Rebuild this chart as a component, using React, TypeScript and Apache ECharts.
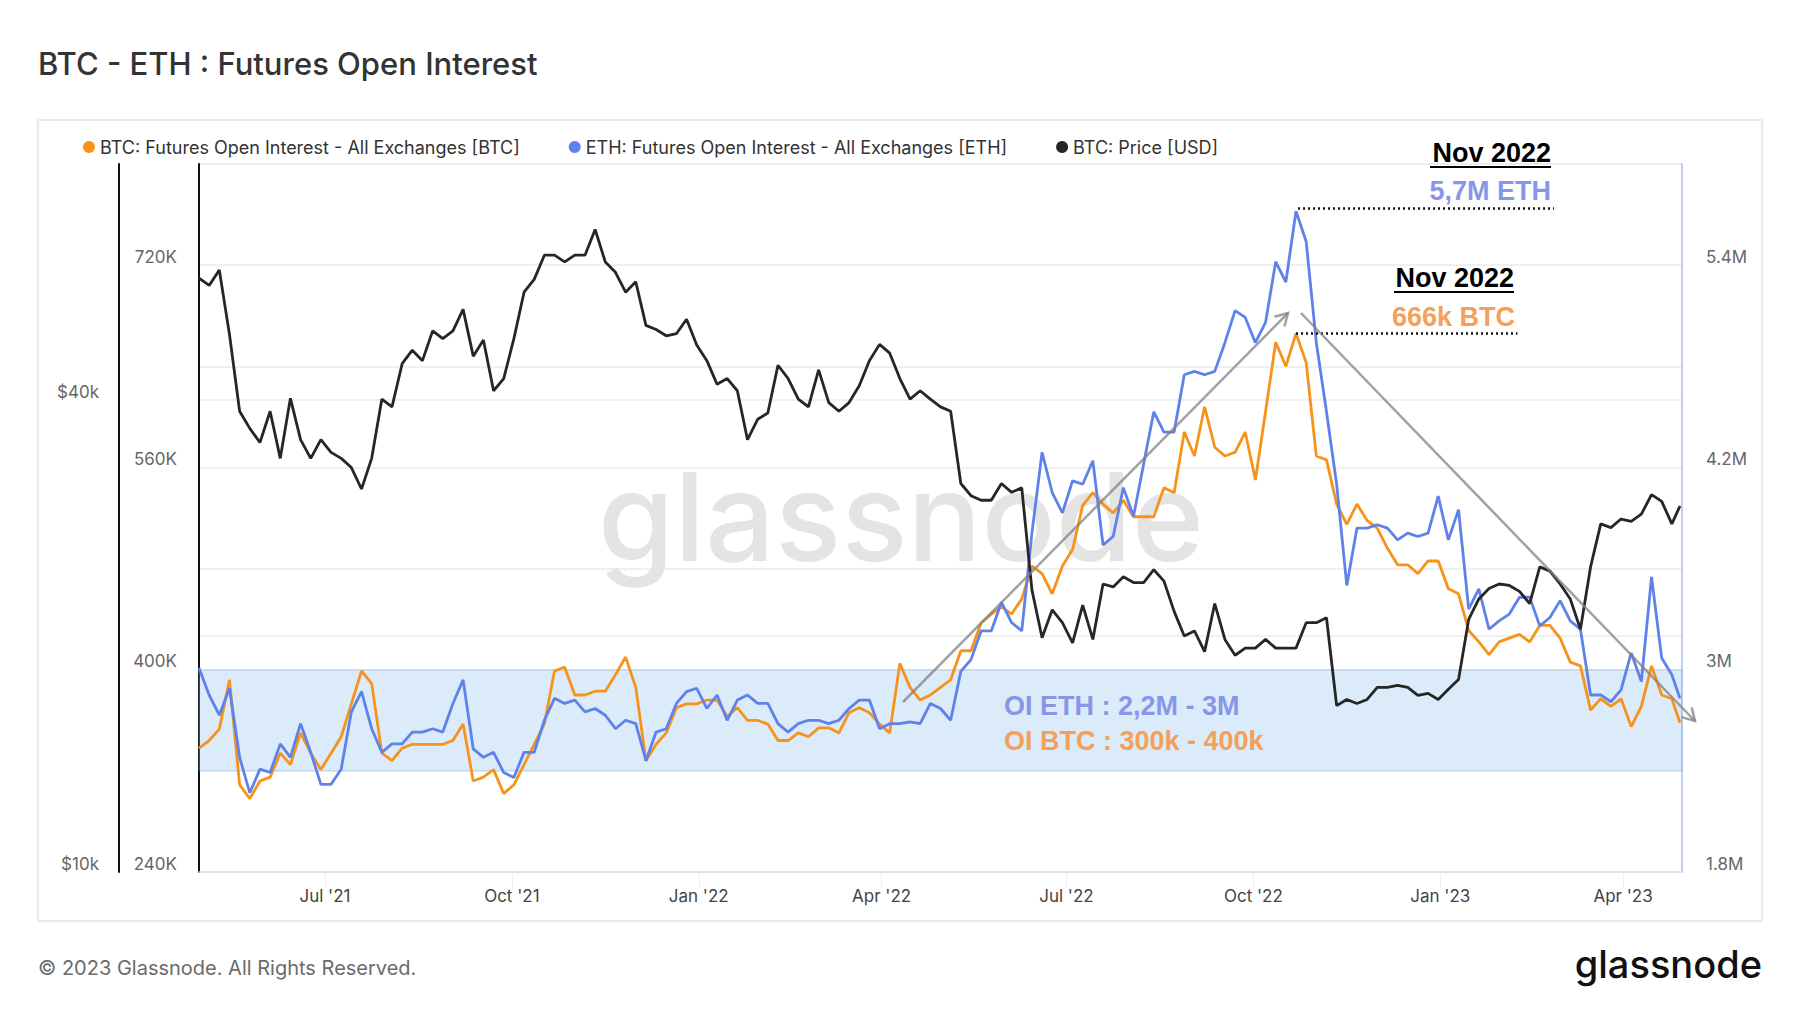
import React, { useEffect, useRef } from "react";
import * as echarts from "echarts";

// ---------- data ----------
const START_DATE = "2021-04-30";
// sample day offsets from START_DATE (every 5 days, plus the last day)
const DAY_OFFSETS = [
  0, 5, 10, 15, 20, 25, 30, 35, 40, 45, 50, 55, 60, 65, 70, 75, 80, 85, 90, 95,
  100, 105, 110, 115, 120, 125, 130, 135, 140, 145, 150, 155, 160, 165, 170, 175, 180, 185, 190, 195,
  200, 205, 210, 215, 220, 225, 230, 235, 240, 245, 250, 255, 260, 265, 270, 275, 280, 285, 290, 295,
  300, 305, 310, 315, 320, 325, 330, 335, 340, 345, 350, 355, 360, 365, 370, 375, 380, 385, 390, 395,
  400, 405, 410, 415, 420, 425, 430, 435, 440, 445, 450, 455, 460, 465, 470, 475, 480, 485, 490, 495,
  500, 505, 510, 515, 520, 525, 530, 535, 540, 545, 550, 555, 560, 565, 570, 575, 580, 585, 590, 595,
  600, 605, 610, 615, 620, 625, 630, 635, 640, 645, 650, 655, 660, 665, 670, 675, 680, 685, 690, 695,
  700, 705, 710, 715, 720, 725, 729,
];

// BTC futures open interest, thousands of BTC
const BTC_OI_K = [
  338, 344, 353, 392, 309, 298, 312, 315, 334, 325, 350, 334, 321, 334, 347, 373, 399, 389, 334, 328,
  338, 341, 341, 341, 341, 344, 357, 312, 315, 321, 302, 309, 325, 341, 357, 399, 402, 380, 380, 383,
  383, 396, 410, 386, 328, 341, 350, 370, 373, 373, 376, 376, 363, 370, 360, 360, 357, 344, 344, 350,
  347, 354, 354, 350, 366, 370, 366, 357, 350, 405, 386, 376, 380, 386, 392, 415, 415, 437, 444, 450,
  444, 456, 482, 476, 460, 482, 495, 530, 540, 531, 524, 534, 521, 521, 521, 544, 540, 588, 569, 608,
  576, 569, 572, 588, 550, 604, 659, 640, 666, 643, 569, 566, 531, 515, 531, 518, 512, 496, 483, 483,
  476, 486, 486, 464, 460, 431, 422, 412, 422, 425, 428, 422, 435, 435, 425, 406, 403, 368, 377, 371,
  377, 355, 371, 403, 380, 377, 358,
];

// ETH futures open interest, millions of ETH
const ETH_OI_M = [
  3.01, 2.85, 2.73, 2.89, 2.48, 2.27, 2.41, 2.39, 2.56, 2.48, 2.68, 2.51, 2.32, 2.32, 2.41, 2.75, 2.87, 2.65, 2.51, 2.56,
  2.56, 2.63, 2.63, 2.65, 2.63, 2.8, 2.94, 2.53, 2.48, 2.51, 2.39, 2.36, 2.51, 2.51, 2.7, 2.83, 2.8, 2.82, 2.75, 2.77,
  2.73, 2.65, 2.7, 2.68, 2.46, 2.63, 2.65, 2.8, 2.87, 2.89, 2.77, 2.85, 2.7, 2.82, 2.85, 2.8, 2.8, 2.68, 2.63, 2.68,
  2.7, 2.7, 2.68, 2.7, 2.77, 2.82, 2.82, 2.65, 2.68, 2.68, 2.69, 2.68, 2.8, 2.77, 2.7, 2.99, 3.06, 3.23, 3.23, 3.4,
  3.28, 3.23, 3.81, 4.29, 4.05, 3.93, 4.12, 4.1, 4.24, 3.74, 3.79, 4.08, 3.91, 4.22, 4.53, 4.41, 4.41, 4.75, 4.77, 4.75,
  4.77, 4.94, 5.13, 5.09, 4.94, 5.06, 5.42, 5.3, 5.72, 5.54, 4.94, 4.53, 4.1, 3.5, 3.84, 3.84, 3.86, 3.84, 3.77, 3.81,
  3.79, 3.81, 4.03, 3.77, 3.95, 3.36, 3.48, 3.24, 3.29, 3.33, 3.43, 3.43, 3.26, 3.31, 3.41, 3.29, 3.24, 2.85, 2.85, 2.81,
  2.88, 3.1, 2.93, 3.55, 3.07, 2.97, 2.83,
];

// BTC price, thousands of USD
const BTC_PRICE_K = [
  57.2, 56.0, 58.6, 48.5, 38.7, 36.8, 35.3, 38.7, 33.7, 40.2, 35.6, 33.7, 35.6, 34.3, 33.7, 32.8, 30.8, 33.7, 40.1, 39.2,
  44.5, 46.3, 44.9, 49.0, 47.9, 49.0, 52.2, 45.5, 47.7, 41.1, 42.6, 47.9, 54.9, 57.0, 61.2, 61.2, 60.0, 61.2, 61.2, 66.0,
  60.0, 58.2, 54.9, 56.6, 49.8, 49.2, 48.3, 48.6, 50.7, 47.0, 44.9, 41.9, 42.6, 41.1, 35.6, 37.8, 38.5, 44.3, 42.6, 40.1,
  39.2, 43.7, 39.7, 38.7, 39.7, 41.7, 44.9, 47.1, 45.9, 42.6, 40.1, 41.1, 40.1, 39.2, 38.7, 31.3, 30.2, 29.8, 29.8, 31.3,
  30.5, 30.9, 22.9, 19.9, 21.6, 20.8, 19.6, 21.9, 19.8, 23.3, 23.1, 23.8, 23.4, 23.4, 24.3, 23.5, 21.5, 20.0, 20.3, 19.1,
  22.0, 19.8, 18.9, 19.3, 19.3, 19.8, 19.3, 19.3, 19.3, 20.8, 20.8, 21.1, 16.3, 16.6, 16.4, 16.6, 17.2, 17.2, 17.3, 17.2,
  16.8, 16.9, 16.6, 17.1, 17.6, 21.0, 22.3, 23.0, 23.3, 23.2, 22.8, 22.0, 24.5, 24.2, 23.3, 22.3, 20.4, 24.5, 27.8, 27.5,
  28.2, 28.0, 28.6, 30.3, 29.7, 27.8, 29.3,
];

const X_TICKS = ["2021-07-01", "2021-10-01", "2022-01-01", "2022-04-01", "2022-07-01", "2022-10-01", "2023-01-01", "2023-04-01"];
const MONTHS = ["Jan", "Feb", "Mar", "Apr", "May", "Jun", "Jul", "Aug", "Sep", "Oct", "Nov", "Dec"];
const PRICE_TICKS = [10000, 20000, 40000, 80000];
const PRICE_LABELS = [10000, 40000];
const BTC_OI_LABELS = [240000, 400000, 560000, 720000];
const ETH_OI_LABELS = [1800000, 3000000, 4200000, 5400000];

const LEGEND_NAMES = [
  "BTC: Futures Open Interest - All Exchanges [BTC]",
  "ETH: Futures Open Interest - All Exchanges [ETH]",
  "BTC: Price [USD]",
];

// annotation values
const BAND_BTC = [320000, 400000];
const ETH_PEAK = 5740000;
const BTC_PEAK = 666000;
const ETH_PEAK_SPAN = [541, 667];
const BTC_PEAK_SPAN = [540, 649];

const DAY_MS = 86400000;
const START_TS = Date.parse(START_DATE + "T00:00:00Z");
const ts = (d: number) => START_TS + d * DAY_MS;

function chevron(x1: number, y1: number, x2: number, y2: number, len = 14, spread = Math.PI / 6) {
  const a = Math.atan2(y2 - y1, x2 - x1);
  return [
    [x2 - len * Math.cos(a - spread), y2 - len * Math.sin(a - spread)],
    [x2, y2],
    [x2 - len * Math.cos(a + spread), y2 - len * Math.sin(a + spread)],
  ];
}

const FONT = "Inter, 'Noto Sans', sans-serif";
const ANNO_FONT = "'Liberation Sans', Arial, sans-serif";
const ETH_TXT = "#8797e8";
const BTC_TXT = "#f5a05a";

export default function App() {
  const ref = useRef<HTMLDivElement>(null);

  useEffect(() => {
    if (!ref.current) return;
    const chart = echarts.init(ref.current, undefined, { renderer: "svg" });

    const btcData = DAY_OFFSETS.map((d, i) => [ts(d), BTC_OI_K[i] * 1000]);
    const ethData = DAY_OFFSETS.map((d, i) => [ts(d), ETH_OI_M[i] * 1e6]);
    const priceData = DAY_OFFSETS.map((d, i) => [ts(d), BTC_PRICE_K[i] * 1000]);
    const xTicks = X_TICKS.map((s) => Date.parse(s + "T00:00:00Z"));

    const arrow1 = [903, 702, 1288, 313];
    const arrow2 = [1301, 313, 1695, 721];
    const arrowStyle = { stroke: "rgba(130,130,130,0.75)", lineWidth: 2.5, fill: "none" };

    const axisLabelBase = { color: "#666", fontSize: 17, fontFamily: FONT };

    chart.setOption({
      animation: false,
      backgroundColor: "#fff",
      title: {
        text: "BTC - ETH : Futures Open Interest",
        left: 38,
        top: 48,
        padding: 0,
        textStyle: { fontSize: 31, fontWeight: 500, color: "#333", fontFamily: FONT },
      },
      legend: {
        data: LEGEND_NAMES,
        left: 83,
        top: 138,
        padding: 0,
        icon: "circle",
        itemWidth: 12,
        itemHeight: 12,
        itemGap: 49,
        textStyle: { fontSize: 18, color: "#333", fontFamily: FONT },
      },
      grid: { left: 199, right: 118, top: 164, bottom: 141, containLabel: false },
      xAxis: {
        type: "value",
        min: ts(0),
        max: ts(730),
        axisLine: { show: true, lineStyle: { color: "#ddd", width: 1.5 } },
        axisTick: { show: true, customValues: xTicks, length: 16, lineStyle: { color: "#eee" } },
        axisLabel: {
          customValues: xTicks,
          color: "#444",
          fontSize: 17,
          fontFamily: FONT,
          margin: 15,
          formatter: (v: number) => {
            const d = new Date(v);
            return `${MONTHS[d.getUTCMonth()]} '${String(d.getUTCFullYear()).slice(2)}`;
          },
        },
        splitLine: { show: false },
      },
      yAxis: [
        {
          type: "log",
          logBase: 10,
          min: 10000,
          max: 80000,
          position: "left",
          offset: 80,
          axisLine: { show: true, lineStyle: { color: "#111", width: 2 } },
          axisTick: { show: false, customValues: PRICE_TICKS },
          splitLine: { show: true, lineStyle: { color: "#ebebeb", width: 1.5 } },
          axisLabel: {
            ...axisLabelBase,
            customValues: PRICE_LABELS,
            verticalAlign: "bottom",
            margin: 20,
            formatter: (v: number) => `$${Math.round(v / 1000)}k`,
          },
        },
        {
          type: "value",
          min: 240000,
          max: 800000,
          interval: 80000,
          position: "left",
          axisLine: { show: true, lineStyle: { color: "#111", width: 2 } },
          axisTick: { show: false },
          splitLine: { show: true, lineStyle: { color: "#ebebeb", width: 1.5 } },
          axisLabel: {
            ...axisLabelBase,
            customValues: BTC_OI_LABELS,
            verticalAlign: "bottom",
            margin: 22,
            formatter: (v: number) => `${Math.round(v / 1000)}K`,
          },
        },
        {
          type: "value",
          min: 1800000,
          max: 6000000,
          interval: 600000,
          position: "right",
          axisLine: { show: true, lineStyle: { color: "#aebcf5", width: 1.5 } },
          axisTick: { show: false },
          splitLine: { show: false },
          axisLabel: {
            ...axisLabelBase,
            customValues: ETH_OI_LABELS,
            verticalAlign: "bottom",
            margin: 24,
            formatter: (v: number) => `${+(v / 1e6).toFixed(1)}M`,
          },
        },
      ],
      series: [
        {
          name: LEGEND_NAMES[0],
          type: "line",
          yAxisIndex: 1,
          data: btcData,
          showSymbol: false,
          symbol: "none",
          color: "#f7931a",
          lineStyle: { width: 2.8, color: "#f7931a" },
          z: 3,
          markLine: {
            silent: true,
            symbol: ["none", "none"],
            label: { show: false },
            lineStyle: { color: "#111", width: 2.5, type: [2, 3] },
            data: [[
              { coord: [ts(BTC_PEAK_SPAN[0]), BTC_PEAK] },
              { coord: [ts(BTC_PEAK_SPAN[1]), BTC_PEAK] },
            ]],
          },
        },
        {
          name: LEGEND_NAMES[1],
          type: "line",
          yAxisIndex: 2,
          data: ethData,
          showSymbol: false,
          symbol: "none",
          color: "#5f81ea",
          lineStyle: { width: 2.8, color: "#5f81ea" },
          z: 3,
          markLine: {
            silent: true,
            symbol: ["none", "none"],
            label: { show: false },
            lineStyle: { color: "#111", width: 2.5, type: [2, 3] },
            data: [[
              { coord: [ts(ETH_PEAK_SPAN[0]), ETH_PEAK] },
              { coord: [ts(ETH_PEAK_SPAN[1]), ETH_PEAK] },
            ]],
          },
        },
        {
          name: LEGEND_NAMES[2],
          type: "line",
          yAxisIndex: 0,
          data: priceData,
          showSymbol: false,
          symbol: "none",
          color: "#262626",
          lineStyle: { width: 2.8, color: "#262626" },
          z: 3,
        },
        {
          name: "band",
          type: "line",
          yAxisIndex: 1,
          data: btcData,
          showSymbol: false,
          symbol: "none",
          lineStyle: { opacity: 0 },
          silent: true,
          z: 6,
          markArea: {
            silent: true,
            itemStyle: {
              color: "rgba(110,175,232,0.25)",
              borderColor: "rgba(110,165,220,0.3)",
              borderWidth: 1,
            },
            data: [[{ yAxis: BAND_BTC[0] }, { yAxis: BAND_BTC[1] }]],
          },
        },
      ],
      graphic: [
        {
          type: "rect",
          z: 0,
          silent: true,
          shape: { x: 38, y: 120, width: 1724, height: 801 },
          style: { fill: "none", stroke: "#e4e4e4", lineWidth: 1.5 },
        },
        {
          type: "text",
          z: 1,
          silent: true,
          style: {
            text: "glassnode",
            x: 901,
            y: 516,
            align: "center",
            verticalAlign: "middle",
            font: `500 123px ${FONT}`,
            fill: "#e4e4e4",
          },
        },
        {
          type: "text",
          z: 50,
          style: {
            text: "© 2023 Glassnode. All Rights Reserved.",
            x: 38,
            y: 968,
            verticalAlign: "middle",
            font: `20px ${FONT}`,
            fill: "#6b6b6b",
          },
        },
        {
          type: "text",
          z: 50,
          style: {
            text: "glassnode",
            x: 1762,
            y: 964,
            align: "right",
            verticalAlign: "middle",
            font: `500 38px ${FONT}`,
            fill: "#111",
          },
        },
        // arrows
        { type: "line", z: 40, silent: true, shape: { x1: arrow1[0], y1: arrow1[1], x2: arrow1[2], y2: arrow1[3] }, style: arrowStyle },
        { type: "polyline", z: 40, silent: true, shape: { points: chevron(arrow1[0], arrow1[1], arrow1[2], arrow1[3]) }, style: arrowStyle },
        { type: "line", z: 40, silent: true, shape: { x1: arrow2[0], y1: arrow2[1], x2: arrow2[2], y2: arrow2[3] }, style: arrowStyle },
        { type: "polyline", z: 40, silent: true, shape: { points: chevron(arrow2[0], arrow2[1], arrow2[2], arrow2[3]) }, style: arrowStyle },
        // annotation texts
        {
          type: "text", z: 60,
          style: { text: "Nov 2022", x: 1551, y: 153, align: "right", verticalAlign: "middle", font: `bold 27px ${ANNO_FONT}`, fill: "#000" },
        },
        { type: "line", z: 60, shape: { x1: 1430, y1: 167, x2: 1551, y2: 167 }, style: { stroke: "#000", lineWidth: 2 } },
        {
          type: "text", z: 60,
          style: { text: "5,7M ETH", x: 1551, y: 191, align: "right", verticalAlign: "middle", font: `bold 27px ${ANNO_FONT}`, fill: ETH_TXT },
        },
        {
          type: "text", z: 60,
          style: { text: "Nov 2022", x: 1514, y: 278, align: "right", verticalAlign: "middle", font: `bold 27px ${ANNO_FONT}`, fill: "#000" },
        },
        { type: "line", z: 60, shape: { x1: 1394, y1: 292, x2: 1514, y2: 292 }, style: { stroke: "#000", lineWidth: 2 } },
        {
          type: "text", z: 60,
          style: { text: "666k BTC", x: 1515, y: 317, align: "right", verticalAlign: "middle", font: `bold 27px ${ANNO_FONT}`, fill: BTC_TXT },
        },
        {
          type: "text", z: 60,
          style: { text: "OI ETH : 2,2M - 3M", x: 1004, y: 706, verticalAlign: "middle", font: `bold 27px ${ANNO_FONT}`, fill: ETH_TXT },
        },
        {
          type: "text", z: 60,
          style: { text: "OI BTC : 300k - 400k", x: 1004, y: 741, verticalAlign: "middle", font: `bold 27px ${ANNO_FONT}`, fill: BTC_TXT },
        },
      ],
    });

    return () => chart.dispose();
  }, []);

  return <div ref={ref} style={{ width: 1800, height: 1013, position: "absolute", left: 0, top: 0, background: "#fff" }} />;
}
